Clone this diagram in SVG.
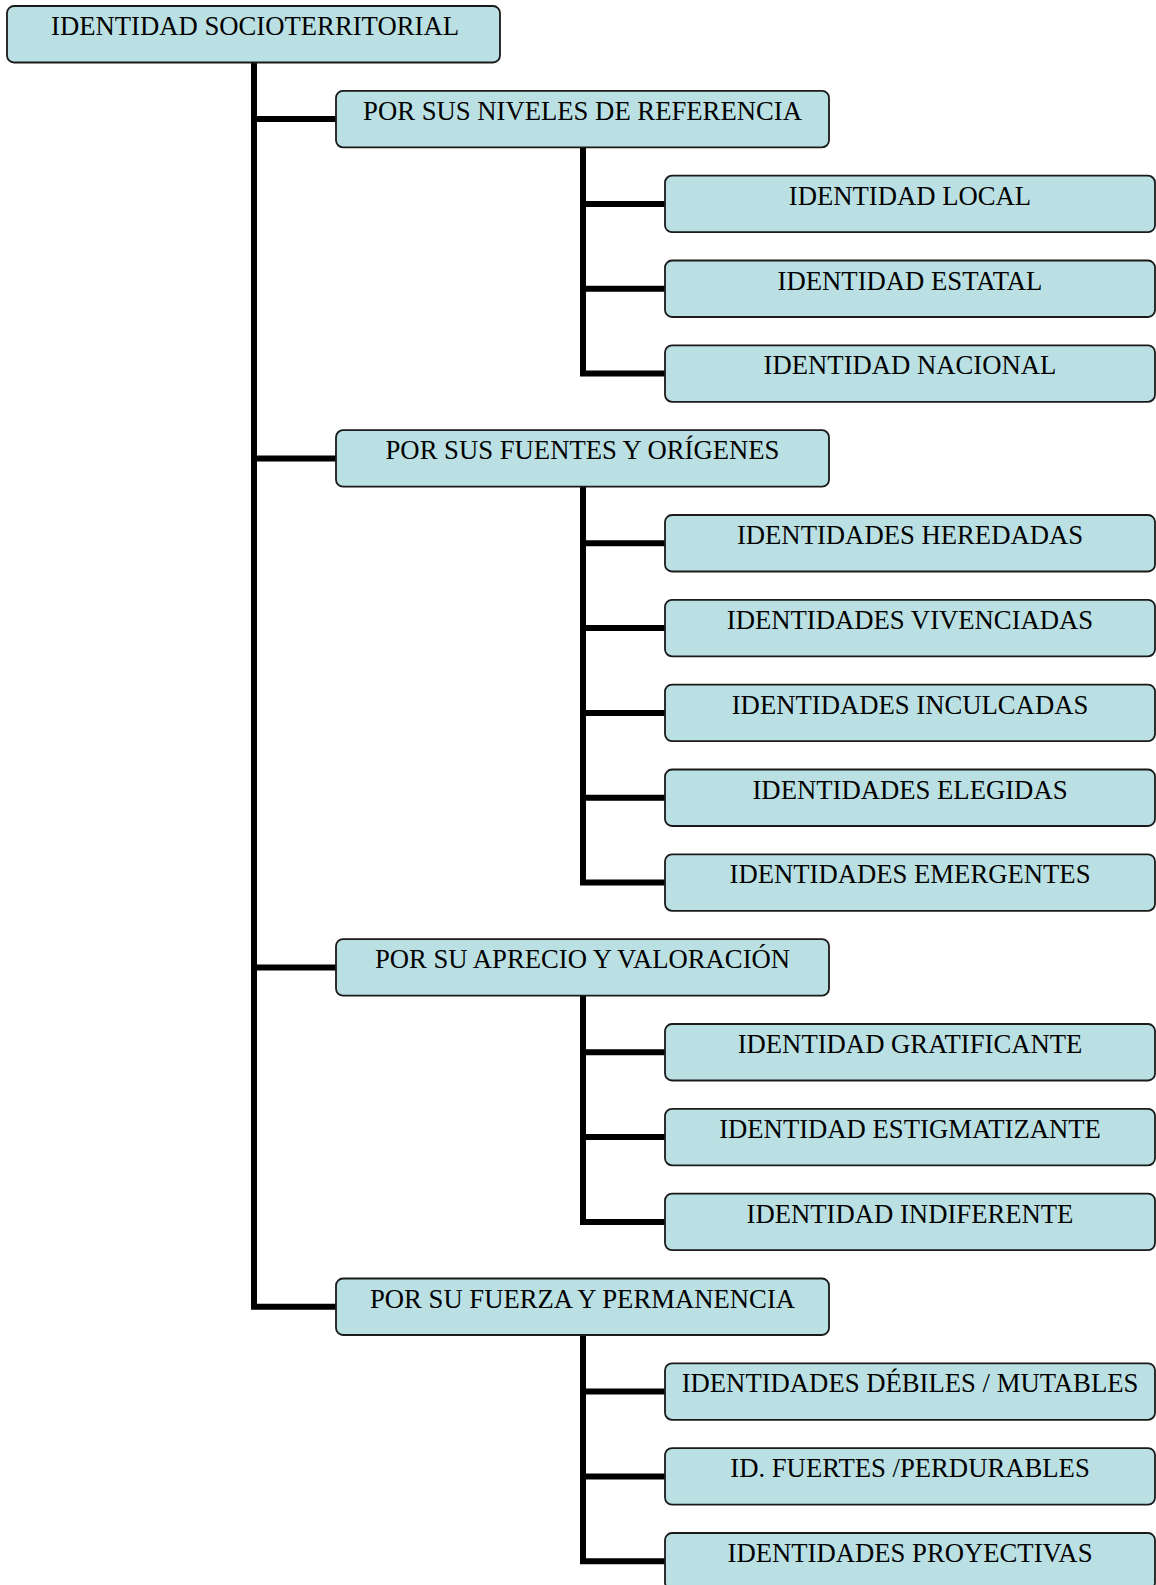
<svg xmlns="http://www.w3.org/2000/svg" width="1156" height="1585" viewBox="0 0 1156 1585">
<style>
.box{fill:#BBE0E3;stroke:#1a1a1a;stroke-width:1.8}
.t{font-family:"Liberation Serif","Times New Roman",serif;font-size:26.7px;fill:#000;text-anchor:middle}
.c{fill:none;stroke:#000;stroke-width:6;stroke-linejoin:miter;stroke-linecap:butt}
</style>
<rect width="1156" height="1585" fill="#fff"/>
<g id="connectors">
<path class="c" d="M254 62 V1306.8 H336 M254 119.1 H336 M254 458.5 H336 M254 967.4 H336"/>
<path class="c" d="M583 147 V373.6 H665 M583 204 H665 M583 288.8 H665"/>
<path class="c" d="M583 486.5 V882.6 H665 M583 543.3 H665 M583 628.1 H665 M583 712.9 H665 M583 797.8 H665"/>
<path class="c" d="M583 995.5 V1221.9 H665 M583 1052.3 H665 M583 1137.1 H665"/>
<path class="c" d="M583 1334.8 V1561.3 H665 M583 1391.6 H665 M583 1476.4 H665"/>
</g>
<g id="root"><rect class="box" x="7" y="6" width="493" height="56.5" rx="7"/><text class="t" x="255" y="35">IDENTIDAD SOCIOTERRITORIAL</text></g>
<g id="niveles"><rect class="box" x="336" y="90.8" width="493" height="56.5" rx="7"/><text class="t" x="582.5" y="119.8">POR SUS NIVELES DE REFERENCIA</text></g>
<g id="local"><rect class="box" x="665" y="175.7" width="490" height="56.5" rx="7"/><text class="t" x="910" y="204.7">IDENTIDAD LOCAL</text></g>
<g id="estatal"><rect class="box" x="665" y="260.5" width="490" height="56.5" rx="7"/><text class="t" x="910" y="289.5">IDENTIDAD ESTATAL</text></g>
<g id="nacional"><rect class="box" x="665" y="345.3" width="490" height="56.5" rx="7"/><text class="t" x="910" y="374.3">IDENTIDAD NACIONAL</text></g>
<g id="fuentes"><rect class="box" x="336" y="430.2" width="493" height="56.5" rx="7"/><text class="t" x="582.5" y="459.2">POR SUS FUENTES Y ORÍGENES</text></g>
<g id="heredadas"><rect class="box" x="665" y="515" width="490" height="56.5" rx="7"/><text class="t" x="910" y="544">IDENTIDADES HEREDADAS</text></g>
<g id="vivenciadas"><rect class="box" x="665" y="599.8" width="490" height="56.5" rx="7"/><text class="t" x="910" y="628.8">IDENTIDADES VIVENCIADAS</text></g>
<g id="inculcadas"><rect class="box" x="665" y="684.6" width="490" height="56.5" rx="7"/><text class="t" x="910" y="713.6">IDENTIDADES INCULCADAS</text></g>
<g id="elegidas"><rect class="box" x="665" y="769.5" width="490" height="56.5" rx="7"/><text class="t" x="910" y="798.5">IDENTIDADES ELEGIDAS</text></g>
<g id="emergentes"><rect class="box" x="665" y="854.3" width="490" height="56.5" rx="7"/><text class="t" x="910" y="883.3">IDENTIDADES EMERGENTES</text></g>
<g id="aprecio"><rect class="box" x="336" y="939.1" width="493" height="56.5" rx="7"/><text class="t" x="582.5" y="968.1">POR SU APRECIO Y VALORACIÓN</text></g>
<g id="gratificante"><rect class="box" x="665" y="1024" width="490" height="56.5" rx="7"/><text class="t" x="910" y="1053">IDENTIDAD GRATIFICANTE</text></g>
<g id="estigmatizante"><rect class="box" x="665" y="1108.8" width="490" height="56.5" rx="7"/><text class="t" x="910" y="1137.8">IDENTIDAD ESTIGMATIZANTE</text></g>
<g id="indiferente"><rect class="box" x="665" y="1193.6" width="490" height="56.5" rx="7"/><text class="t" x="910" y="1222.6">IDENTIDAD INDIFERENTE</text></g>
<g id="fuerza"><rect class="box" x="336" y="1278.5" width="493" height="56.5" rx="7"/><text class="t" x="582.5" y="1307.5">POR SU FUERZA Y PERMANENCIA</text></g>
<g id="debiles"><rect class="box" x="665" y="1363.3" width="490" height="56.5" rx="7"/><text class="t" x="910" y="1392.3">IDENTIDADES DÉBILES / MUTABLES</text></g>
<g id="fuertes"><rect class="box" x="665" y="1448.1" width="490" height="56.5" rx="7"/><text class="t" x="910" y="1477.1">ID. FUERTES /PERDURABLES</text></g>
<g id="proyectivas"><rect class="box" x="665" y="1533" width="490" height="56.5" rx="7"/><text class="t" x="910" y="1562">IDENTIDADES PROYECTIVAS</text></g>
</svg>
